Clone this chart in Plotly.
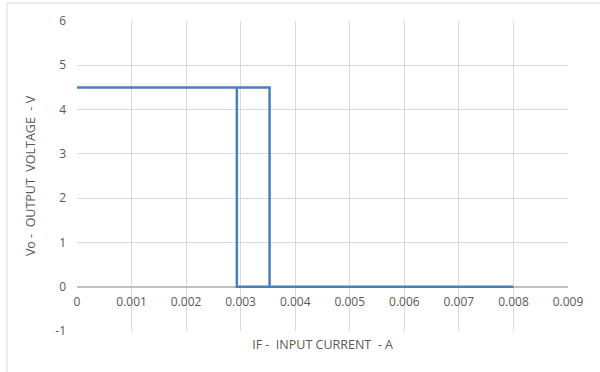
import plotly.graph_objects as go

# Hysteresis transfer characteristic
x_vals = [0, 0.00353, 0.00353, 0.008, 0.00293, 0.00293, 0]
y_vals = [4.5, 4.5, 0, 0, 0, 4.5, 4.5]
x_ticks = [0, 0.001, 0.002, 0.003, 0.004, 0.005, 0.006, 0.007, 0.008, 0.009]
x_tick_labels = ["0", "0.001", "0.002", "0.003", "0.004", "0.005", "0.006", "0.007", "0.008", "0.009"]
y_ticks = [-1, 0, 1, 2, 3, 4, 5, 6]
y_tick_labels = ["-1", "0", "1", "2", "3", "4", "5", "6"]

font_family = "Open Sans, Liberation Sans, sans-serif"
grey = "#595959"

fig = go.Figure()
fig.add_trace(go.Scatter(x=x_vals, y=y_vals, mode="lines",
                         line=dict(color="#4A7EC0", width=2.5),
                         showlegend=False, hoverinfo="skip"))

fig.update_layout(
    width=600, height=372,
    margin=dict(l=77, r=32, t=21, b=41),
    paper_bgcolor="white", plot_bgcolor="white",
    font=dict(family=font_family, size=12, color=grey),
    xaxis=dict(range=[0, 0.009], tickvals=x_ticks, ticktext=x_tick_labels,
               showgrid=True, gridcolor="#D9D9D9", gridwidth=1,
               zeroline=False, showline=True, linecolor="#BFBFBF", linewidth=1.5,
               anchor="free", position=1/7, ticks="", automargin=False,
               layer="below traces", ticklabelstandoff=4,
               tickfont=dict(size=12, color=grey),
               title=dict(text="IF -  INPUT CURRENT  - A", standoff=30,
                          font=dict(size=12.5, color=grey))),
    yaxis=dict(range=[-1, 6], tickvals=y_ticks, ticktext=y_tick_labels,
               showgrid=True, automargin=False,
               gridcolor="#D9D9D9", gridwidth=1, zeroline=False,
               showline=False, ticks="", ticklabelstandoff=10,
               tickfont=dict(size=12, color=grey),
               title=dict(text="Vo -  OUTPUT  VOLTAGE  - V", standoff=16,
                          font=dict(size=12.5, color=grey))),
    shapes=[dict(type="rect", xref="paper", yref="paper",
                 x0=-70/491, x1=1 + 40/491, y0=-60/310, y1=1 + 18/310,
                 line=dict(color="#D9D9D9", width=1), layer="below")],
)

fig.write_html("out.html", config={"displayModeBar": False},
               post_script="document.body.style.margin='0';")
